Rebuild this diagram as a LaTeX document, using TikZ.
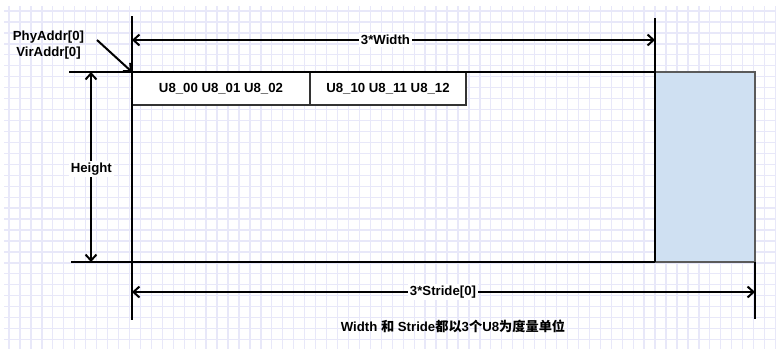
\documentclass[tikz,border=0pt]{standalone}
\usepackage{fontspec}
\setmainfont{Liberation Sans}
\newfontfamily\cjk{Noto Sans CJK SC}
\usetikzlibrary{arrows.meta}
\definecolor{gridc}{RGB}{232,232,249}
\definecolor{bluef}{RGB}{207,224,242}
\definecolor{edgeg}{RGB}{90,90,90}
\definecolor{boxe}{RGB}{51,51,51}
\begin{document}
\begin{tikzpicture}[x=1bp,y=-1bp,
  lbl/.style={font=\fontsize{13.2bp}{16bp}\selectfont\bfseries, inner sep=2bp},
  mainln/.style={line width=2bp, black},
  dim/.style={line width=2bp, {Straight Barb[length=6bp,width=11bp]}-{Straight Barb[length=6bp,width=11bp]}},
  onearrow/.style={line width=2bp, -{Straight Barb[length=6bp,width=11bp]}},
  cell/.style={draw=boxe, line width=1.5bp, fill=white, minimum height=33bp, anchor=north west, inner sep=0pt, outer sep=0pt,
    font=\fontsize{13.2bp}{16bp}\selectfont\bfseries},
  gridln/.style={gridc, line width=1.3bp}
]
\useasboundingbox (0,0) rectangle (776,349);
\fill[white] (0,0) rectangle (776,349);
% grid
\foreach \i in {0,...,70} {
  \pgfmathsetmacro{\gx}{9+10.95*\i}
  \ifdim \gx pt<776pt \draw[gridln] (\gx,6) -- (\gx,349); \fi
}
\foreach \j in {0,...,31} {
  \pgfmathsetmacro{\gy}{11+10.95*\j}
  \ifdim \gy pt<349pt \draw[gridln] (4,\gy) -- (776,\gy); \fi
}
% key points
\coordinate (tl) at (132,72);
\coordinate (tr) at (655,72);
\coordinate (bl) at (132,262);
\coordinate (br) at (655,262);
\coordinate (xr) at (755,72);
\coordinate (xbr) at (755,262);
% padding area
\fill[bluef] (tr) rectangle (xbr);
\draw[edgeg, line width=1.5bp] (tr) -- (xr) -- (xbr) -- (br);
% cells
\node[cell, minimum width=178bp] (c1) at (tl) {U8\_00 U8\_01 U8\_02};
\node[cell, minimum width=156bp] (c2) at (c1.north east) {U8\_10 U8\_11 U8\_12};
% main lines
\coordinate (ltop) at (132,16);
\coordinate (lbot) at (132,320);
\coordinate (rtop) at (655,18);
\coordinate (htl) at (69,72);
\coordinate (hbl) at (71,262);
\coordinate (sbot) at (755,319);
\draw[mainln] (ltop) -- (lbot);
\draw[mainln] (htl) -- (tr);
\draw[mainln] (rtop) -- (br);
\draw[mainln] (hbl) -- (br);
\draw[mainln] (xbr) -- (sbot);
% dimension arrows
\coordinate (wl) at (132,40);
\coordinate (wr) at (655,40);
\draw[dim] (wl) -- (wr);
\node[lbl, fill=white] (wlab) at (385.5,40) {3*Width};
\coordinate (sl) at (132,292);
\coordinate (sr) at (755,292);
\draw[dim] (sl) -- (sr);
\node[lbl, fill=white] (slab) at (443,292) {3*Stride[0]};
\coordinate (ht) at (91,72);
\coordinate (hb) at (91,262);
\draw[dim] (ht) -- (hb);
\node[lbl, fill=white] (hlab) at (91.3,169) {Height};
% address pointer
\node[lbl, align=center] (addr) at (48.5,45) {PhyAddr[0]\\VirAddr[0]};
\coordinate (pa) at (97,40);
\draw[onearrow] (pa) -- (tl);
% caption
\node[lbl] (cap) at (453,326) {Width {\cjk 和} Stride{\cjk 都以}3{\cjk 个}U8{\cjk 为度量单位}};
\end{tikzpicture}
\end{document}
